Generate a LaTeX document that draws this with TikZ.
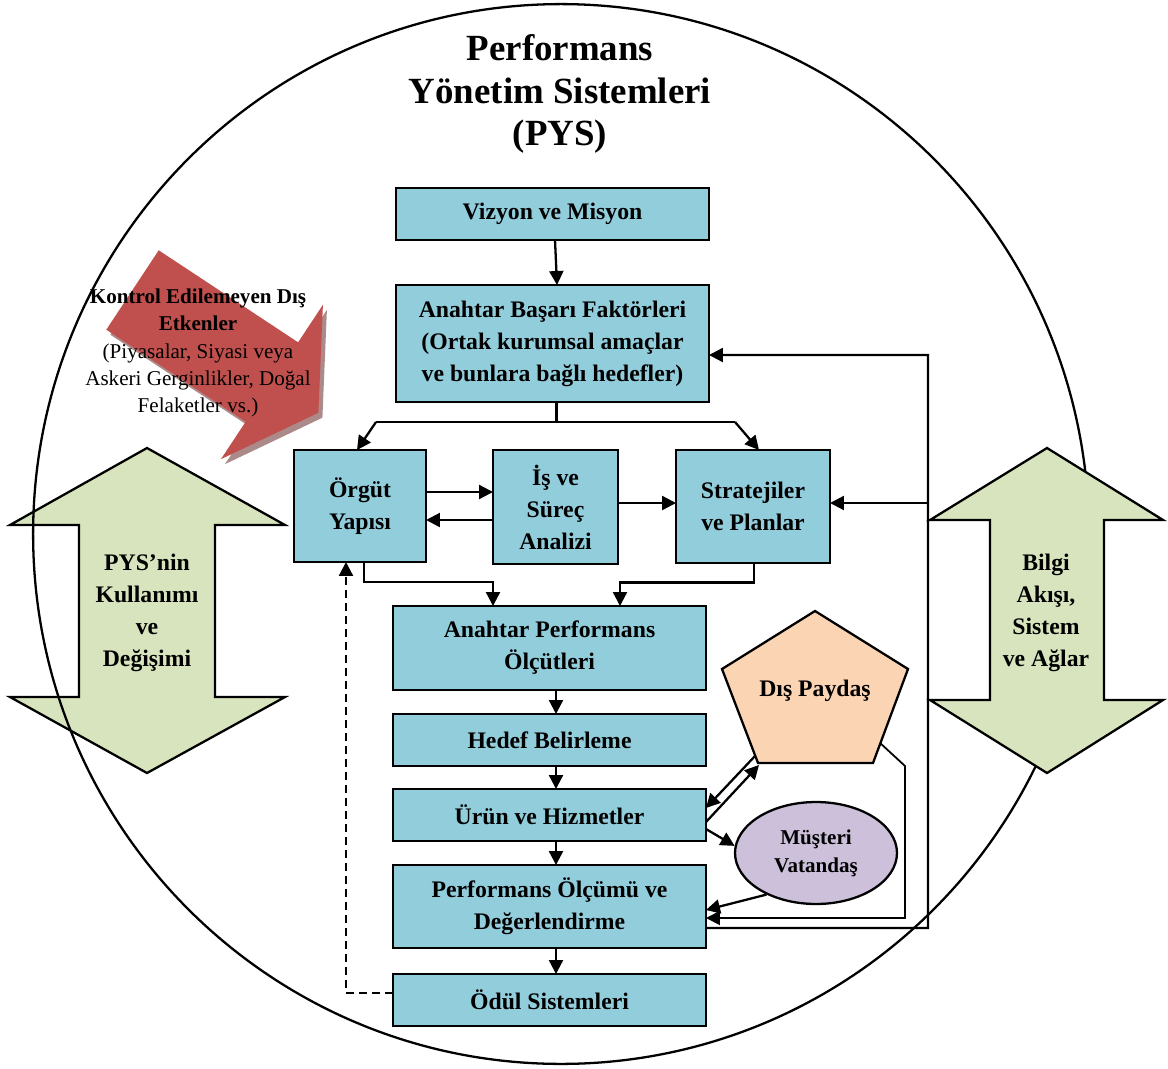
\documentclass[tikz,border=0pt]{standalone}
\usepackage{fontspec}
\setmainfont{Liberation Serif}
\usetikzlibrary{arrows.meta,calc,shapes.geometric}
\definecolor{boxblue}{RGB}{146,205,220}
\definecolor{arrowgreen}{RGB}{215,228,189}
\definecolor{peach}{RGB}{251,212,180}
\definecolor{lilac}{RGB}{204,192,218}
\definecolor{brickred}{RGB}{192,80,77}
\definecolor{shadowred}{RGB}{172,138,138}
\begin{document}
\begin{tikzpicture}[x=0.02cm,y=-0.02cm,line width=1.3pt,
  box/.style={draw,fill=boxblue,inner sep=0pt,outer sep=0pt,align=center,
    font=\bfseries\fontsize{13.5}{18.2}\selectfont},
  boldtext/.style={align=center,font=\bfseries\fontsize{13.5}{18.2}\selectfont},
  arr/.style={-{Triangle[length=0.28cm,width=0.28cm]}},
  bigarrow/.style={draw,fill=arrowgreen,line join=miter},
  ]
\useasboundingbox (0,0) rectangle (1168,1068);

% external factors arrow with its drop shadow
\fill[shadowred,shift={(4,5)}] (158.7,250.3) -- (298.1,342.3) -- (322.9,304.8) -- (318.4,412.7)
  -- (220.9,459.2) -- (245.7,421.7) -- (106.3,329.7) -- cycle;
\fill[brickred] (158.7,250.3) -- (298.1,342.3) -- (322.9,304.8) -- (318.4,412.7)
  -- (220.9,459.2) -- (245.7,421.7) -- (106.3,329.7) -- cycle;

% left double arrow
\draw[bigarrow] (147,448) -- (285,525) -- (215,525) -- (215,697) -- (285,697) -- (147,773)
  -- (10,697) -- (79,697) -- (79,525) -- (10,525) -- cycle;

% system boundary
\draw (561,534) ellipse [x radius=10.56cm, y radius=10.6cm];

% right double arrow
\draw[bigarrow] (1047,448) -- (1163,520) -- (1104,520) -- (1104,700) -- (1163,700) -- (1047,773)
  -- (930,700) -- (990,700) -- (990,520) -- (930,520) -- cycle;

\node[boldtext] (usage) at (147,613) {PYS’nin\\Kullanımı\\ve\\Değişimi};
\node[boldtext] (info) at (1046,613) {Bilgi\\Akışı,\\Sistem\\ve Ağlar};

\node[align=center,font=\fontsize{12}{15.6}\selectfont] (ext) at (198,353)
  {\textbf{Kontrol Edilemeyen Dış}\\\textbf{Etkenler}\\(Piyasalar, Siyasi veya\\Askeri Gerginlikler, Doğal\\Felaketler vs.)};

\node[align=center,font=\bfseries\fontsize{21}{24.4}\selectfont] (title) at (560,94)
  {Performans\\Yönetim Sistemleri\\(PYS)};

% process boxes
\node[box,minimum width=6.26cm,minimum height=1.04cm] (viz) at (552.5,214) {Vizyon ve Misyon};
\node[box,minimum width=6.26cm,minimum height=2.34cm] (abf) at (552.5,343.5)
  {Anahtar Başarı Faktörleri\\(Ortak kurumsal amaçlar\\ve bunlara bağlı hedefler)};
\node[box,minimum width=2.64cm,minimum height=2.24cm] (org) at (360,506) {Örgüt\\Yapısı};
\node[box,minimum width=2.5cm,minimum height=2.28cm] (isa) at (555.5,507) {İş ve\\Süreç\\Analizi};
\node[box,minimum width=3.08cm,minimum height=2.26cm] (str) at (753,506.5) {Stratejiler\\ve Planlar};
\node[box,minimum width=6.26cm,minimum height=1.68cm] (apo) at (549.5,648) {Anahtar Performans\\Ölçütleri};
\node[box,minimum width=6.26cm,minimum height=1.04cm] (hed) at (549.5,740) {Hedef Belirleme};
\node[box,minimum width=6.26cm,minimum height=1.04cm] (urn) at (549.5,815) {Ürün ve Hizmetler};
\node[box,minimum width=6.26cm,minimum height=1.66cm] (pol) at (549.5,906.5) {Performans Ölçümü ve\\Değerlendirme};
\node[box,minimum width=6.26cm,minimum height=1.04cm] (odl) at (549.5,1000) {Ödül Sistemleri};

% external stakeholder pentagon
\coordinate (pt) at (815,611);
\coordinate (pr) at (908,669);
\coordinate (pbr) at (873,763);
\coordinate (pbl) at (758,763);
\coordinate (pl) at (722,669);
\draw[fill=peach,line join=miter] (pt) -- (pr) -- (pbr) -- (pbl) -- (pl) -- cycle;
\node[boldtext] (dp) at (815,691) {Dış Paydaş};

% customer ellipse
\node[ellipse,draw,fill=lilac,minimum width=3.24cm,minimum height=2.04cm,inner sep=0pt,
  align=center,font=\bfseries\fontsize{12}{16}\selectfont] (mv) at (816,853) {Müşteri\\Vatandaş};

% main flow
\draw[arr] ($(viz.south)+(2.5,0)$) -- ($(abf.north)+(4.5,0)$);
\coordinate (sl) at (376,422);
\coordinate (sr) at (735,422);
\draw ($(abf.south)+(4,0)$) -- ($(abf.south)+(4,20)$);
\draw (sl) -- (sr);
\draw[arr] (sl) -- ($(org.north)+(-3,0)$);
\draw[arr] (sr) -- ($(str.north)+(6,0)$);

\draw[arr] ($(org.east)+(0,-14)$) -- ($(isa.west)+(0,-15)$);
\draw[arr] ($(isa.west)+(0,13)$) -- ($(org.east)+(0,14)$);
\draw[arr] ($(isa.east)+(0,-4)$) -- ($(str.west)+(0,-3.5)$);

\draw[arr] ($(org.south)+(4,0)$) -- ($(org.south)+(4,20)$) -| ($(apo.north)+(-56.5,0)$);
\draw[arr] ($(str.south)+(1,0)$) -- ($(str.south)+(1,19.5)$) -| ($(apo.north)+(70.5,0)$);

\draw[arr] ($(apo.south)+(6.5,0)$) -- ($(hed.north)+(6.5,0)$);
\draw[arr] ($(hed.south)+(6.5,0)$) -- ($(urn.north)+(6.5,0)$);
\draw[arr] ($(urn.south)+(6.5,0)$) -- ($(pol.north)+(6.5,0)$);
\draw[arr] ($(pol.south)+(6.5,0)$) -- ($(odl.north)+(6.5,0)$);

\draw[arr,dash pattern=on 0.16cm off 0.1cm] ($(odl.west)+(0,-7)$) -| ($(org.south)+(-14,0)$);

% feedback loop on the right
\coordinate (rt) at (928,355);
\coordinate (rm) at (928,503);
\draw[arr] ($(pol.east)+(0,21.5)$) -| (rt) -- ($(abf.east)+(0,11.5)$);
\draw[arr] (rm) -- ($(str.east)+(0,-3.5)$);

% stakeholder and customer links
\coordinate (pa) at (755,756);
\coordinate (pb) at (759,765);
\coordinate (pc) at ($(pr)!0.79!(pbr)$);
\draw[arr] (pa) -- ($(urn.east)+(0,-7)$);
\draw[arr] ($(urn.east)+(0,7)$) -- (pb);
\draw[arr] ($(urn.east)+(0,14)$) -- (mv.175);
\draw[arr] (mv.220) -- ($(pol.east)+(0,3.5)$);
\draw[arr,line width=1pt] (pc) -- (905,766) -- (905,918) -- ($(pol.east)+(0,11.5)$);
\end{tikzpicture}
\end{document}
